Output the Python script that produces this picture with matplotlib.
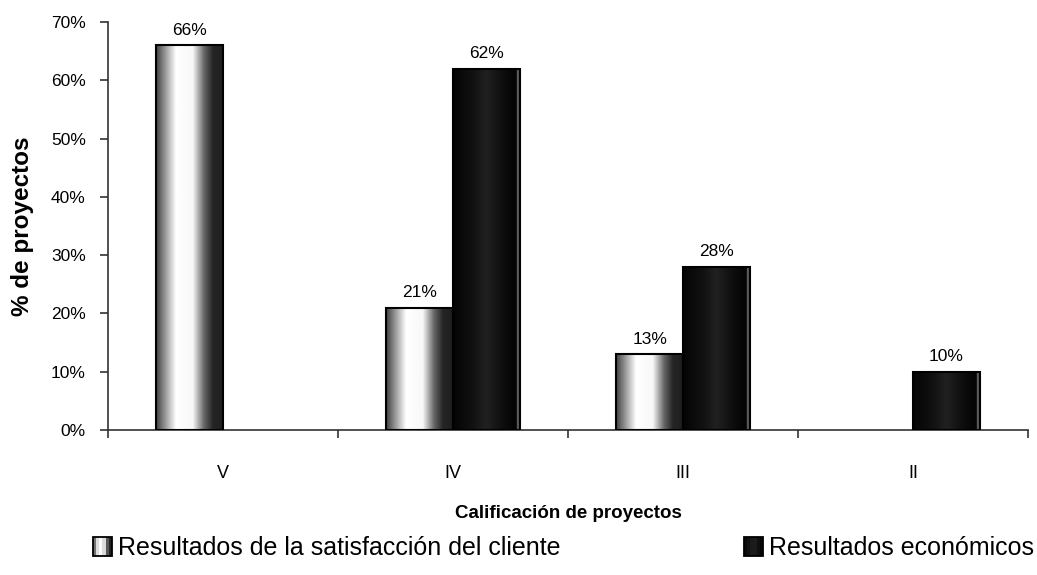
import numpy as np
import matplotlib
matplotlib.use("Agg")
import matplotlib.pyplot as plt
from matplotlib.patches import Rectangle
from matplotlib.legend_handler import HandlerBase
from matplotlib.ticker import FuncFormatter, FixedLocator

plt.rcParams['font.family'] = ['Liberation Sans', 'DejaVu Sans']

categories = ["V", "IV", "III", "II"]
satisfaccion = [66, 21, 13, 0]
economicos = [0, 62, 28, 10]
series_names = ["Resultados de la satisfacción del cliente", "Resultados económicos"]
yticks = [0, 10, 20, 30, 40, 50, 60, 70]

fig = plt.figure(figsize=(10.37, 5.75), dpi=100)
ax = fig.add_axes([108/1037, 1-430/575, (1028-108)/1037, (430-22)/575])

t = np.linspace(0, 1, 200)
light_prof = np.interp(t, [0, 0.08, 0.3, 0.55, 0.72, 0.85, 1], [0.25, 0.45, 1.0, 0.97, 0.4, 0.15, 0.12])
dark_prof = np.interp(t, [0, 0.3, 0.5, 0.7, 0.9, 0.95, 0.97, 1], [0.02, 0.07, 0.13, 0.07, 0.02, 0.02, 0.5, 0.05])

w = 0.29
centers = np.arange(len(categories)) + 0.5

def grad_bar(x0, h, prof):
    if h <= 0:
        return
    img = np.tile(prof, (2, 1))
    ax.imshow(img, cmap='gray', vmin=0, vmax=1, aspect='auto',
              extent=(x0, x0 + w, 0, h), interpolation='bilinear', zorder=2)
    ax.add_patch(Rectangle((x0, 0), w, h, facecolor='none', edgecolor='black', lw=1.5, zorder=3))

for c, v in zip(centers, satisfaccion):
    grad_bar(c - w, v, light_prof)
    if v > 0:
        ax.text(c - w/2, v + 1.3, f"{v}%", ha='center', va='bottom', fontsize=12.5)
for c, v in zip(centers, economicos):
    grad_bar(c, v, dark_prof)
    if v > 0:
        ax.text(c + w/2, v + 1.3, f"{v}%", ha='center', va='bottom', fontsize=12.5)

ax.set_xlim(0, len(categories))
ax.set_ylim(0, 70)
ax.spines['top'].set_visible(False)
ax.spines['right'].set_visible(False)
for s in ['left', 'bottom']:
    ax.spines[s].set_linewidth(1.2)
    ax.spines[s].set_color('#333333')

ax.yaxis.set_major_locator(FixedLocator(yticks))
ax.yaxis.set_major_formatter(FuncFormatter(lambda v, p: f"{int(v)}%"))
ax.tick_params(axis='y', direction='out', length=6, width=1.2, pad=10, color='#333333', labelsize=12.5)

ax.set_xticks(np.arange(len(categories) + 1))
ax.set_xticklabels([])
ax.set_xticks(centers, minor=True)
ax.set_xticklabels(categories, minor=True, fontsize=13)
ax.tick_params(axis='x', which='major', direction='out', length=6, width=1.2, color='#333333')
ax.tick_params(axis='x', which='minor', length=0, pad=25)

ax.set_ylabel("% de proyectos", fontsize=17.5, fontweight='bold', labelpad=12)
ax.set_xlabel("Calificación de proyectos", fontsize=13.5, fontweight='bold', labelpad=17)


class GradHandler(HandlerBase):
    def __init__(self, prof):
        super().__init__()
        self.prof = prof

    def create_artists(self, legend, orig_handle, xdescent, ydescent, width, height, fontsize, trans):
        s = 14
        x0 = -xdescent + (width - s) / 2
        y0 = -ydescent + (height - s) / 2
        arts = []
        n = 6
        for i in range(n):
            g = self.prof[int((i + 0.5) / n * (len(self.prof) - 1))]
            arts.append(Rectangle((x0 + i * s / n, y0), s / n, s, facecolor=str(g), edgecolor='none', transform=trans))
        arts.append(Rectangle((x0, y0), s, s, facecolor='none', edgecolor='black', lw=1.3, transform=trans))
        return arts


for name, prof, xl in [(series_names[0], light_prof, 93), (series_names[1], dark_prof, 744)]:
    h = Rectangle((0, 0), 1, 1)
    fig.legend([h], [name], loc='center left', bbox_to_anchor=(xl/1037, 1-548/575),
               frameon=False, prop={'size': 18},
               handlelength=0.75, handletextpad=0.25, borderpad=0, borderaxespad=0,
               handler_map={h: GradHandler(prof)})

fig.savefig("out.png", dpi=100)
